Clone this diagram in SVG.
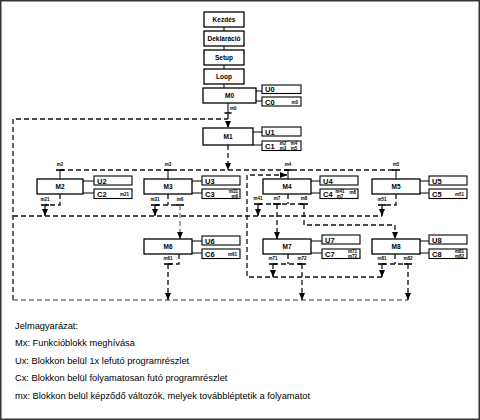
<svg xmlns="http://www.w3.org/2000/svg" width="480" height="420" viewBox="0 0 480 420">
<defs>
<style>
text{font-family:"Liberation Sans",Arial,sans-serif;fill:#000}
.b{fill:#fff;stroke:#000;stroke-width:1.3}
.s{fill:#fff;stroke:#000;stroke-width:1.1}
.t{font-size:6.5px;font-weight:bold;text-anchor:middle}
.u{font-size:7.5px;font-weight:bold}
.v{font-size:4.5px;font-weight:bold}
.ve{font-size:4.5px;font-weight:bold;text-anchor:end}
.vm{font-size:4.5px;font-weight:bold;text-anchor:middle}
.ln{stroke:#000;stroke-width:1;fill:none}
.d{stroke:#111;stroke-width:1.3;stroke-dasharray:5 3;fill:none}
.g{stroke:#777;stroke-width:1.3;stroke-dasharray:5 3;fill:none}
.bar{stroke:#000;stroke-width:1.6}
.lg{font-size:9.3px}
</style>
<marker id="ah" viewBox="0 0 10 10" refX="10" refY="5" markerWidth="7" markerHeight="6" preserveAspectRatio="none" orient="auto" markerUnits="userSpaceOnUse"><path d="M0,0 L10,5 L0,10 z" fill="#000"/></marker>
</defs>
<rect x="0.75" y="0.75" width="478.5" height="418.5" fill="#fff" stroke="#333" stroke-width="1.5"/>

<g id="connectors">
<!-- top chain -->
<path class="ln" d="M224,27V31 M224,46V50 M224,65V69 M224,84V88"/>
<!-- U/C links -->
<path class="ln" d="M256,91H262 M256,101H262 M253,132H262 M253,145H262"/>
<path class="ln" d="M83,181H94 M83,193H94 M192,181H202 M192,193H202 M311,181H320 M311,193H320 M420,181H429 M420,193H429"/>
<path class="ln" d="M192,241H202 M192,253H202 M311,241H322 M311,253H322 M420,241H429 M420,253H429"/>
<!-- M0 to M1 -->
<path class="ln" d="M228,103V113"/>
<line class="bar" x1="224.5" y1="113" x2="231.5" y2="113"/>
<path class="d" d="M228,114V128" marker-end="url(#ah)"/>
<!-- main loop -->
<path class="d" d="M13,300V119H228"/>
<path class="d" d="M13,216H382"/>
<path class="g" d="M13,300H408"/>
<!-- M1 out -->
<path class="d" d="M228,145V170" marker-end="url(#ah)"/>
<path class="d" d="M60,170H396"/>
<path class="ln" d="M60,170V179 M168,170V179 M288,170V179 M396,170V179"/>
<line class="bar" x1="56" y1="170" x2="64" y2="170"/>
<line class="bar" x1="164" y1="170" x2="172" y2="170"/>
<line class="bar" x1="284" y1="170" x2="292" y2="170"/>
<line class="bar" x1="392" y1="170" x2="400" y2="170"/>
<!-- loop 2 -->
<path class="d" d="M382,277H247V175H287" marker-end="url(#ah)"/>
<!-- row2 outputs -->
<path class="d" d="M60,194V205H45"/>
<line class="bar" x1="41" y1="205" x2="49" y2="205"/>
<path class="d" d="M45,205V216" marker-end="url(#ah)"/>
<path class="d" d="M168,194V205M155,205H180"/>
<line class="bar" x1="151" y1="205" x2="159" y2="205"/>
<path class="d" d="M155,205V216" marker-end="url(#ah)"/>
<line class="bar" x1="176" y1="205" x2="184" y2="205"/>
<path class="g" d="M180,205V239" marker-end="url(#ah)"/>
<path class="d" d="M288,194V204M258,204H304"/>
<line class="bar" x1="254" y1="204" x2="262" y2="204"/>
<path class="d" d="M258,204V216" marker-end="url(#ah)"/>
<line class="bar" x1="273" y1="204" x2="281" y2="204"/>
<path class="d" d="M277,204V239" marker-end="url(#ah)"/>
<line class="bar" x1="300" y1="204" x2="308" y2="204"/>
<path class="d" d="M304,204V225H395V239" marker-end="url(#ah)"/>
<path class="d" d="M396,194V205H382"/>
<line class="bar" x1="378" y1="205" x2="386" y2="205"/>
<path class="d" d="M382,205V216" marker-end="url(#ah)"/>
<!-- row3 outputs -->
<path class="d" d="M179,254V264H168"/>
<line class="bar" x1="164" y1="264" x2="172" y2="264"/>
<path class="d" d="M168,264V300" marker-end="url(#ah)"/>
<path class="d" d="M288,254V264M273,264H302"/>
<line class="bar" x1="269" y1="264" x2="277" y2="264"/>
<path class="d" d="M273,264V277" marker-end="url(#ah)"/>
<line class="bar" x1="298" y1="264" x2="306" y2="264"/>
<path class="d" d="M302,264V300" marker-end="url(#ah)"/>
<path class="d" d="M395,254V264M382,264H408"/>
<line class="bar" x1="378" y1="264" x2="386" y2="264"/>
<path class="d" d="M382,264V277" marker-end="url(#ah)"/>
<line class="bar" x1="404" y1="264" x2="412" y2="264"/>
<path class="d" d="M408,264V300" marker-end="url(#ah)"/>
<!-- variable labels -->
<text class="v" x="230" y="110">m0</text>
<text class="vm" x="60" y="166">m2</text>
<text class="vm" x="168" y="166">m3</text>
<text class="vm" x="288" y="166">m4</text>
<text class="vm" x="396" y="166">m5</text>
<text class="vm" x="45" y="201">m21</text>
<text class="vm" x="155" y="201">m31</text>
<text class="vm" x="180" y="201">m6</text>
<text class="vm" x="258" y="200">m41</text>
<text class="vm" x="277" y="200">m7</text>
<text class="vm" x="304" y="200">m8</text>
<text class="vm" x="382" y="201">m51</text>
<text class="vm" x="168" y="260">m61</text>
<text class="vm" x="273" y="260">m71</text>
<text class="vm" x="302" y="260">m72</text>
<text class="vm" x="382" y="260">m81</text>
<text class="vm" x="408" y="260">m82</text>
</g>

<g id="kezdes"><rect class="b" x="204" y="12" width="40" height="15"/><text class="t" x="224" y="22">Kezdés</text></g>
<g id="deklaracio"><rect class="b" x="204" y="31" width="40" height="15"/><text class="t" x="224" y="41">Deklaráció</text></g>
<g id="setup"><rect class="b" x="204" y="50" width="40" height="15"/><text class="t" x="224" y="60">Setup</text></g>
<g id="loop"><rect class="b" x="204" y="69" width="40" height="15"/><text class="t" x="224" y="79">Loop</text></g>

<g id="M0"><rect class="b" x="203" y="88" width="53" height="15"/><text class="t" x="229.5" y="98">M0</text></g>
<g id="U0"><rect class="s" x="262" y="85" width="39" height="8.5"/><text class="u" x="265" y="92">U0</text></g>
<g id="C0"><rect class="s" x="262" y="97" width="39" height="9"/><text class="u" x="265" y="104.5">C0</text><text class="ve" x="298" y="103.5">m0</text></g>

<g id="M1"><rect class="b" x="203" y="128" width="50" height="17"/><text class="t" x="228" y="139">M1</text></g>
<g id="U1"><rect class="s" x="262" y="127" width="39" height="9"/><text class="u" x="265" y="134.5">U1</text></g>
<g id="C1"><rect class="s" x="262" y="141" width="39" height="9.5"/><text class="u" x="265" y="148.5">C1</text><text class="vm" x="283" y="145">m2</text><text class="vm" x="283" y="149.5">m3</text><text class="vm" x="294" y="145">m4</text><text class="vm" x="294" y="149.5">m5</text></g>

<g id="M2"><rect class="b" x="37" y="179" width="46" height="15"/><text class="t" x="60" y="189">M2</text></g>
<g id="U2"><rect class="s" x="94" y="176" width="38" height="9"/><text class="u" x="97" y="183.5">U2</text></g>
<g id="C2"><rect class="s" x="94" y="189" width="38" height="9.5"/><text class="u" x="97" y="196.5">C2</text><text class="ve" x="129" y="195.5">m21</text></g>

<g id="M3"><rect class="b" x="144" y="179" width="48" height="15"/><text class="t" x="168" y="189">M3</text></g>
<g id="U3"><rect class="s" x="202" y="176" width="38" height="9"/><text class="u" x="205" y="183.5">U3</text></g>
<g id="C3"><rect class="s" x="202" y="189" width="38" height="9.5"/><text class="u" x="205" y="196.5">C3</text><text class="ve" x="238" y="193">m31</text><text class="ve" x="238" y="197.5">m6</text></g>

<g id="M4"><rect class="b" x="263" y="179" width="48" height="15"/><text class="t" x="287" y="189">M4</text></g>
<g id="U4"><rect class="s" x="320" y="176" width="38" height="9"/><text class="u" x="323" y="183.5">U4</text></g>
<g id="C4"><rect class="s" x="320" y="189" width="38" height="9.5"/><text class="u" x="323" y="196.5">C4</text><text class="vm" x="340" y="193">m41</text><text class="vm" x="340" y="197.5">m7</text><text class="ve" x="356" y="194">m8</text></g>

<g id="M5"><rect class="b" x="372" y="179" width="48" height="15"/><text class="t" x="396" y="189">M5</text></g>
<g id="U5"><rect class="s" x="429" y="176" width="38" height="9"/><text class="u" x="432" y="183.5">U5</text></g>
<g id="C5"><rect class="s" x="429" y="189" width="38" height="9.5"/><text class="u" x="432" y="196.5">C5</text><text class="ve" x="464" y="195.5">m51</text></g>

<g id="M6"><rect class="b" x="144" y="239" width="48" height="15"/><text class="t" x="168" y="249">M6</text></g>
<g id="U6"><rect class="s" x="202" y="236" width="38" height="9"/><text class="u" x="205" y="243.5">U6</text></g>
<g id="C6"><rect class="s" x="202" y="249" width="38" height="9.5"/><text class="u" x="205" y="256.5">C6</text><text class="ve" x="237" y="255.5">m61</text></g>

<g id="M7"><rect class="b" x="263" y="239" width="48" height="15"/><text class="t" x="287" y="249">M7</text></g>
<g id="U7"><rect class="s" x="322" y="235" width="38" height="9"/><text class="u" x="325" y="242.5">U7</text></g>
<g id="C7"><rect class="s" x="322" y="249" width="38" height="9.5"/><text class="u" x="325" y="256.5">C7</text><text class="ve" x="357" y="253">m71</text><text class="ve" x="357" y="257.5">m72</text></g>

<g id="M8"><rect class="b" x="372" y="239" width="48" height="15"/><text class="t" x="396" y="249">M8</text></g>
<g id="U8"><rect class="s" x="429" y="235" width="38" height="9"/><text class="u" x="432" y="242.5">U8</text></g>
<g id="C8"><rect class="s" x="429" y="249" width="38" height="9.5"/><text class="u" x="432" y="256.5">C8</text><text class="ve" x="464" y="253">m81</text><text class="ve" x="464" y="257.5">m82</text></g>

<g id="legend">
<text class="lg" x="15" y="329">Jelmagyarázat:</text>
<text class="lg" x="15" y="346">Mx: Funkcióblokk meghívása</text>
<text class="lg" x="15" y="363.5">Ux: Blokkon belül 1x lefutó programrészlet</text>
<text class="lg" x="15" y="381">Cx: Blokkon belül folyamatosan futó programrészlet</text>
<text class="lg" x="15" y="398.5">mx: Blokkon belül képződő változók, melyek továbbléptetik a folyamatot</text>
</g>
</svg>
